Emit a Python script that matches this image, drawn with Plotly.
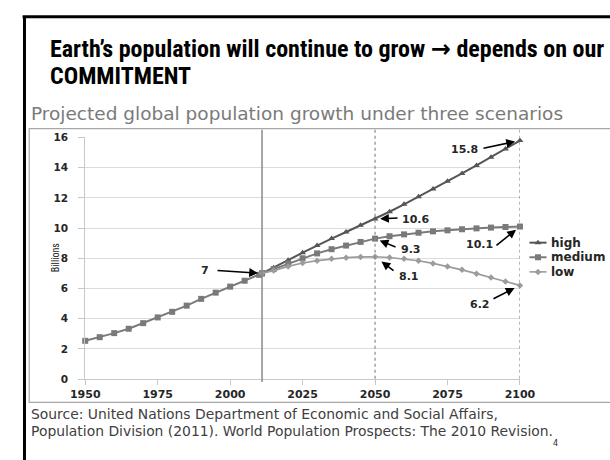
import plotly.graph_objects as go

# ---- data (billions) ----
hist_years = [1950, 1955, 1960, 1965, 1970, 1975, 1980, 1985, 1990, 1995, 2000, 2005, 2010, 2011]
hist_pop = [2.53, 2.77, 3.04, 3.33, 3.70, 4.08, 4.45, 4.86, 5.31, 5.72, 6.12, 6.51, 6.90, 7.0]

proj_years = [2011, 2015, 2020, 2025, 2030, 2035, 2040, 2045, 2050, 2055,
              2060, 2065, 2070, 2075, 2080, 2085, 2090, 2095, 2100]
high = [7.0, 7.37, 7.87, 8.37, 8.85, 9.30, 9.74, 10.18, 10.6, 11.08,
        11.57, 12.07, 12.58, 13.10, 13.62, 14.15, 14.69, 15.24, 15.8]
medium = [7.0, 7.28, 7.66, 8.00, 8.32, 8.60, 8.84, 9.08, 9.3, 9.46,
          9.58, 9.69, 9.78, 9.85, 9.92, 9.98, 10.03, 10.07, 10.1]
low = [7.0, 7.18, 7.46, 7.68, 7.84, 7.96, 8.04, 8.09, 8.1, 8.05,
       7.96, 7.83, 7.66, 7.46, 7.23, 6.98, 6.72, 6.46, 6.2]

scenario_names = ["high", "medium", "low"]
x_ticks = [1950, 1975, 2000, 2025, 2050, 2075, 2100]
y_ticks = [0, 2, 4, 6, 8, 10, 12, 14, 16]
base_year = 2011
marker_years = [2050, 2100]

W, H = 610, 460


def px(x):
    return x / W


def py(y):
    return 1 - y / H


NARROW = "Liberation Sans Narrow, Arial Narrow, Roboto Condensed, Liberation Sans, sans-serif"
WIDE = "DejaVu Sans, Verdana, sans-serif"

C_HIGH, C_MED, C_LOW = "#555555", "#7a7a7a", "#9c9c9c"
styles = {
    "high": dict(line=dict(color=C_HIGH, width=2),
                 marker=dict(symbol="triangle-up", size=6, color=C_HIGH)),
    "medium": dict(line=dict(color=C_MED, width=2),
                   marker=dict(symbol="square", size=6, color=C_MED)),
    "low": dict(line=dict(color=C_LOW, width=1.6),
                marker=dict(symbol="diamond", size=5, color=C_LOW)),
}
series = {"high": high, "medium": medium, "low": low}

fig = go.Figure()
fig.add_trace(go.Scatter(x=hist_years, y=hist_pop, mode="lines+markers",
                         showlegend=False, cliponaxis=False, hoverinfo="skip",
                         **styles["medium"]))
for name in scenario_names:
    fig.add_trace(go.Scatter(x=proj_years, y=series[name], name=name, mode="lines+markers",
                             showlegend=False, cliponaxis=False, **styles[name]))

# key drawn on a full-page pixel axis pair
key_rows = [243, 258, 273]
for name, row in zip(scenario_names, key_rows):
    st = styles[name]
    fig.add_trace(go.Scatter(x=[542, 560], y=[row, row], mode="lines", line=st["line"],
                             xaxis="x2", yaxis="y2", showlegend=False, hoverinfo="skip",
                             cliponaxis=False))
    fig.add_trace(go.Scatter(x=[551], y=[row], mode="markers", marker=st["marker"],
                             xaxis="x2", yaxis="y2", showlegend=False, hoverinfo="skip",
                             cliponaxis=False))

fig.update_layout(
    width=W, height=H, margin=dict(l=0, r=0, t=0, b=0),
    paper_bgcolor="white", plot_bgcolor="rgba(0,0,0,0)", showlegend=False,
    xaxis=dict(range=[1950, 2100], domain=[px(74), px(532)], tickvals=x_ticks,
               showgrid=False, zeroline=False, showline=True, linecolor="#c8c8c8",
               ticks="outside", ticklen=5, tickcolor="#c8c8c8",
               tickfont=dict(family=WIDE, size=11, color="#262626", weight="bold")),
    yaxis=dict(range=[0, 16], domain=[py(383), py(135)], tickvals=y_ticks,
               showgrid=True, gridcolor="#dcdcdc", gridwidth=1, zeroline=False,
               showline=True, linecolor="#c8c8c8",
               ticks="outside", ticklen=6, tickcolor="#c8c8c8", ticklabelstandoff=8,
               tickfont=dict(family=WIDE, size=10.5, color="#262626", weight="bold")),
    xaxis2=dict(domain=[0, 1], range=[0, W], visible=False, anchor="y2", fixedrange=True),
    yaxis2=dict(domain=[0, 1], range=[H, 0], visible=False, anchor="x2", fixedrange=True),
)

shapes = [
    # slide frame
    dict(type="line", xref="paper", yref="paper", x0=px(8), x1=px(640), y0=py(11), y1=py(11),
         line=dict(color="black", width=3)),
    dict(type="line", xref="paper", yref="paper", x0=px(10), x1=px(10), y0=py(11), y1=py(470),
         line=dict(color="black", width=3)),
    # chart box
    dict(type="rect", xref="paper", yref="paper", x0=px(15), x1=px(640), y0=py(126), y1=py(407),
         line=dict(color="#a8a8a8", width=1.2), layer="below"),
    # base year line
    dict(type="line", xref="x", yref="paper", x0=base_year, x1=base_year, y0=py(127), y1=py(386),
         line=dict(color="#8a8a8a", width=1.5)),
]
for yr in marker_years:
    shapes.append(dict(type="line", xref="x", yref="paper", x0=yr, x1=yr, y0=py(127), y1=py(386),
                       line=dict(color="#8a8a8a", width=1.2, dash="dot")))
fig.update_layout(shapes=shapes)

ann = []
# slide heading
ann.append(dict(xref="paper", yref="paper", x=px(35), y=py(44), xanchor="left", yanchor="middle",
                text="<b>Earth’s population will continue to grow "
                     "<span style='font-family:DejaVu Sans'>→</span> depends on our</b>",
                showarrow=False, font=dict(family=NARROW, size=24, color="black")))
ann.append(dict(xref="paper", yref="paper", x=px(35), y=py(72), xanchor="left", yanchor="middle",
                text="<b>COMMITMENT</b>",
                showarrow=False, font=dict(family=NARROW, size=24, color="black")))
# chart subtitle
ann.append(dict(xref="paper", yref="paper", x=px(15), y=py(110), xanchor="left", yanchor="middle",
                text="Projected global population growth under three scenarios",
                showarrow=False, font=dict(family=WIDE, size=18.5, color="#7a7a7a")))
# axis title
ann.append(dict(xref="paper", yref="paper", x=px(42), y=py(258), xanchor="center", yanchor="middle",
                text="Billions", textangle=-90,
                showarrow=False, font=dict(family=NARROW, size=10, color="#262626")))
# key labels
for name, row in zip(scenario_names, key_rows):
    ann.append(dict(xref="paper", yref="paper", x=px(563), y=py(row), xanchor="left",
                    yanchor="middle", text=f"<b>{name}</b>", showarrow=False,
                    font=dict(family=WIDE, size=12, color="#262626")))
# source
ann.append(dict(xref="paper", yref="paper", x=px(15), y=py(419), xanchor="left", yanchor="middle",
                text="Source: United Nations Department of Economic and Social Affairs,",
                showarrow=False, font=dict(family=WIDE, size=13.9, color="#404040")))
ann.append(dict(xref="paper", yref="paper", x=px(15), y=py(436), xanchor="left", yanchor="middle",
                text="Population Division (2011). World Population Prospects: The 2010 Revision.",
                showarrow=False, font=dict(family=WIDE, size=13.9, color="#404040")))
ann.append(dict(xref="paper", yref="paper", x=px(569), y=py(449), xanchor="center", yanchor="middle",
                text="4", showarrow=False, font=dict(family=WIDE, size=8, color="#262626")))

# value callouts: (year, value, arrow tail dx, dy, standoff, label dx, dy)
callouts = [
    (base_year, hist_pop[-1], -46, -3, 4, -57, -3),
    (2050, high[proj_years.index(2050)], 24, -1, 5, 40, 1),
    (2050, medium[proj_years.index(2050)], 22, 9, 5, 36, 11),
    (2050, low[proj_years.index(2050)], 20, 15, 8, 34, 20),
    (2100, high[-1], -38, 8, 5, -55, 9),
    (2100, medium[-1], -25, 20, 5, -40, 18),
    (2100, low[-1], -28, 14, 6, -40, 19),
]
for yr, val, adx, ady, so, ldx, ldy in callouts:
    lab = f"{val:g}"
    ann.append(dict(x=yr, y=val, xref="x", yref="y", text="", showarrow=True,
                    ax=adx, ay=ady, arrowhead=2, arrowsize=1.1, arrowwidth=1.6,
                    arrowcolor="black", standoff=so))
    ann.append(dict(x=yr, y=val, xref="x", yref="y", text=f"<b>{lab}</b>", showarrow=True,
                    ax=ldx, ay=ldy, arrowcolor="rgba(0,0,0,0)", arrowwidth=0.1,
                    font=dict(family=WIDE, size=11, color="#262626")))
fig.update_layout(annotations=ann)

fig.write_html("out.html")
